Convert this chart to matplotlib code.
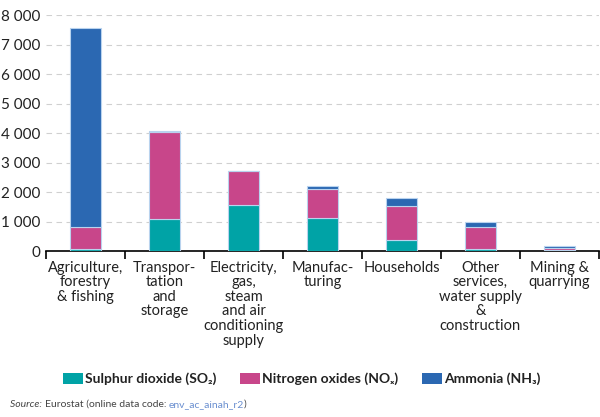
import numpy as np
import matplotlib.pyplot as plt
from matplotlib.patches import Patch
from matplotlib.ticker import FuncFormatter

plt.rcParams['font.family'] = ['Lato', 'DejaVu Sans']

categories = ["Agriculture,\nforestry\n& fishing", "Transpor-\ntation\nand\nstorage",
              "Electricity,\ngas,\nsteam\nand air\nconditioning\nsupply", "Manufac-\nturing",
              "Households", "Other\nservices,\nwater supply\n&\nconstruction", "Mining &\nquarrying"]
so2 = [70, 1100, 1550, 1130, 390, 80, 30]
nox = [730, 2930, 1150, 985, 1125, 720, 85]
nh3 = [6750, 50, 20, 100, 280, 200, 50]
series_names = ["Sulphur dioxide (SO\u2082)", "Nitrogen oxides (NO\u2093)", "Ammonia (NH\u2083)"]
colors = ["#00A3A6", "#C8468A", "#2B68B2"]

fig = plt.figure(figsize=(6, 4.17), dpi=100)
ax = fig.add_axes([0.077, 0.398, 0.921, 0.566])

x = np.arange(len(categories))
bottom = np.zeros(len(categories))
for vals, name, c in zip([so2, nox, nh3], series_names, colors):
    ax.bar(x, vals, 0.4, bottom=bottom, color=c,
           edgecolor="#B9D3EE", linewidth=0.8, zorder=3)
    bottom += np.array(vals)

ax.set_xlim(-0.5, 6.5)
ax.set_ylim(0, 8000)
ax.set_yticks(range(0, 8001, 1000))
ax.yaxis.set_major_formatter(FuncFormatter(lambda v, p: f"{int(v):,}".replace(",", " ")))
ax.grid(axis='y', color="#D0D0D0", linestyle=(0, (5, 4)), linewidth=0.8, zorder=0)
for s in ["left", "right", "top"]:
    ax.spines[s].set_visible(False)
ax.spines["bottom"].set_linewidth(1.2)
ax.tick_params(axis='y', length=0, labelsize=11, colors="#222222", pad=4)
ax.set_xticks(x)
ax.set_xticklabels(categories, fontsize=10.5, linespacing=1.05, color="#222222")
ax.set_xticks(np.arange(-0.5, 7, 1), minor=True)
ax.tick_params(axis='x', which='major', length=0, pad=7)
ax.tick_params(axis='x', which='minor', length=6, width=1.2, direction='out')

handles = [Patch(facecolor=c, edgecolor='none') for c in colors]
leg = fig.legend(handles, series_names, loc='center', bbox_to_anchor=(0.503, 0.091), ncol=3,
                 frameon=False, handlelength=1.45, handleheight=0.8, handletextpad=0.15,
                 columnspacing=1.7, prop={'weight': 'bold', 'size': 10})
for t in leg.get_texts():
    t.set_color("#222222")

t1 = fig.text(0.017, 0.024, "Source: ", fontsize=7.5, style='italic', color="#444444")
t2 = ax.annotate("Eurostat (online data code: ", xy=(1, 0), xycoords=t1, va='bottom',
                 fontsize=7.5, color="#444444", annotation_clip=False)
t3 = ax.annotate("env_ac_ainah_r2", xy=(1, 0), xycoords=t2, va='bottom',
                 fontsize=7.5, color="#6A8FD0", annotation_clip=False)
ax.annotate(")", xy=(1, 0), xycoords=t3, va='bottom',
            fontsize=7.5, color="#444444", annotation_clip=False)

fig.savefig("out.png", dpi=100)
